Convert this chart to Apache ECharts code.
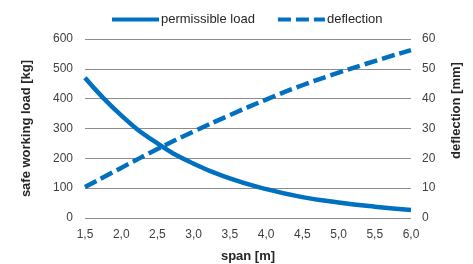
<!DOCTYPE html>
<html lang="en">
  <head>
    <meta charset="UTF-8" />
    <title>span chart</title>
    <script src="https://cdn.jsdelivr.net/npm/echarts@6/dist/echarts.min.js"></script>
  </head>
  <body style="margin: 0">
    <div id="chart" style="width: 473px; height: 264px"></div>

    <script>
      // data
      var spans = [1.5, 2.0, 2.5, 3.0, 3.5, 4.0, 4.5, 5.0, 5.5, 6.0];
      var permissibleLoad = [470, 344, 250, 182, 133, 97, 70, 52, 38, 27];
      var deflection = [10.4, 16.8, 23.1, 29.0, 34.5, 39.7, 44.5, 48.7, 52.6, 56.3];

      var blue = "#0070c0";
      var font = "Liberation Sans, Arial, sans-serif";

      function pairs(ys) {
        return spans.map(function (x, i) {
          return [x, ys[i]];
        });
      }
      function comma(v) {
        return v.toFixed(1).replace(".", ",");
      }

      var myChart = echarts.init(document.getElementById("chart"));

      var axisLabel = { color: "#404040", fontSize: 12, fontFamily: font };
      var nameStyle = { color: "#262626", fontSize: 13, fontWeight: "bold", fontFamily: font };

      var option = {
        animation: false,
        legend: {
          top: 13,
          left: 110,
          itemWidth: 47,
          itemHeight: 10,
          itemGap: 21,
          padding: 0,
          itemStyle: { opacity: 0 },
          lineStyle: { width: 4 },
          textStyle: { color: "#262626", fontSize: 13, fontFamily: font, padding: [0, 0, 0, -3] },
          data: ["permissible load", "deflection"],
        },
        grid: { left: 85, right: 62, top: 39, bottom: 46, outerBoundsMode: "none" },
        xAxis: {
          type: "value",
          min: 1.5,
          max: 6,
          interval: 0.5,
          name: "span [m]",
          nameLocation: "middle",
          nameGap: 32,
          nameTextStyle: nameStyle,
          axisLine: { show: false },
          axisTick: { show: false },
          splitLine: { show: false },
          axisLabel: Object.assign({ formatter: comma, margin: 11 }, axisLabel),
        },
        yAxis: [
          {
            type: "value",
            min: 0,
            max: 600,
            interval: 100,
            name: "safe working load [kg]",
            nameLocation: "middle",
            nameGap: 52,
            nameTextStyle: nameStyle,
            axisLine: { show: false },
            axisTick: { show: false },
            axisLabel: Object.assign({ margin: 12 }, axisLabel),
            splitLine: { lineStyle: { color: "#8c8c8c", width: 1 } },
          },
          {
            type: "value",
            min: 0,
            max: 60,
            interval: 10,
            name: "deflection [mm]",
            nameLocation: "middle",
            nameGap: 39,
            nameTextStyle: Object.assign({ padding: [0, 0, 0, 36] }, nameStyle),
            axisLine: { show: false },
            axisTick: { show: false },
            axisLabel: Object.assign({ margin: 11 }, axisLabel),
            splitLine: { show: false },
          },
        ],
        series: [
          {
            name: "permissible load",
            type: "line",
            smooth: true,
            symbol: "none",
            yAxisIndex: 0,
            lineStyle: { color: blue, width: 4.5 },
            itemStyle: { color: blue },
            data: pairs(permissibleLoad),
          },
          {
            name: "deflection",
            type: "line",
            smooth: true,
            symbol: "none",
            yAxisIndex: 1,
            lineStyle: { color: blue, width: 4.5, type: [13, 5] },
            itemStyle: { color: blue },
            data: pairs(deflection),
          },
        ],
      };

      myChart.setOption(option);
    </script>
  </body>
</html>
